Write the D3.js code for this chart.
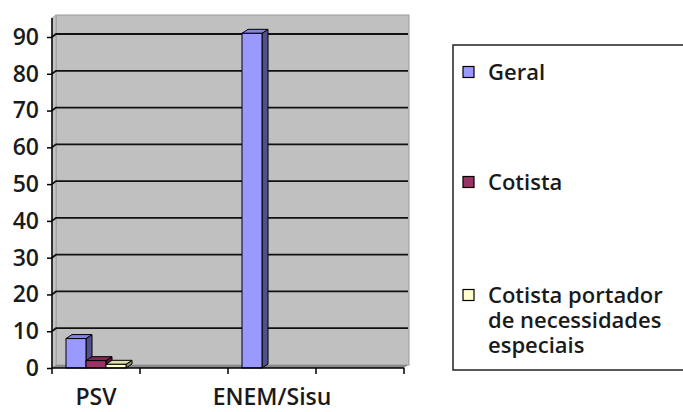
<!DOCTYPE html>
<html lang="pt">
<head>
  <meta charset="UTF-8">
  <title>PSV x ENEM/Sisu</title>
  <script src="https://d3js.org/d3.v7.min.js"></script>
  <style>
    body { margin: 0; background: #fff; }
    text { font-family: "Open Sans", sans-serif; font-weight: 600; fill: #1a1a1a; }
  </style>
</head>
<body>
  <svg width="683" height="412"></svg>

  <script>
    // Categories (Excel left two empty columns between the labelled ones)
    const categories = ["PSV", "", "ENEM/Sisu", ""];
    const series = ["Geral", "Cotista", "Cotista portador de necessidades especiais"];
    const legendLines = [["Geral"], ["Cotista"], ["Cotista portador", "de necessidades", "especiais"]];

    // Values per series, one per category
    const geral = [8, 0, 91, 0];
    const cotista = [2, 0, 0, 0];
    const especiais = [1, 0, 0, 0];

    const yTicks = [0, 10, 20, 30, 40, 50, 60, 70, 80, 90];

    const colors = {
      front: ["#9999ff", "#993366", "#ffffcc"],
      top: ["#8484e0", "#7d2953", "#e0e0b0"],
      side: ["#50508c", "#561c3a", "#8f8f72"]
    };

    const fontSize = 23;
    const svg = d3.select("svg");

    // Plot geometry
    const x0 = 52, x1 = 404, yBottom = 368, yTop90 = 37;
    const wallDx = 4, wallDy = -3;   // depth of back wall
    const barDx = 6, barDy = -4;     // depth of the 3D columns

    const x = d3.scaleBand()
      .domain(d3.range(categories.length))
      .range([x0, x1])
      .padding(0);

    const xs = d3.scaleBand()
      .domain(series)
      .range([0, x.bandwidth()])
      .paddingInner(0)
      .paddingOuter(0.7);

    const y = d3.scaleLinear()
      .domain([0, 90])
      .range([yBottom, yTop90]);

    // Back wall, side wall and floor
    const wallTop = 15;
    svg.append("rect")
      .attr("x", x0 + wallDx)
      .attr("y", wallTop)
      .attr("width", x1 + wallDx + 1 - (x0 + wallDx))
      .attr("height", y(0) + wallDy - wallTop)
      .attr("fill", "#c0c0c0")
      .attr("stroke", "#9a9a9a")
      .attr("stroke-width", 1);

    svg.append("polygon")
      .attr("points", [[x0, y(0)], [x0 + wallDx, y(0) + wallDy], [x0 + wallDx, wallTop], [x0, wallTop + 3]].join(" "))
      .attr("fill", "#c4c4c4")
      .attr("stroke", "#9a9a9a")
      .attr("stroke-width", 0.8);

    svg.append("polygon")
      .attr("points", [[x0, y(0)], [x1, y(0)], [x1 + wallDx, y(0) + wallDy], [x0 + wallDx, y(0) + wallDy]].join(" "))
      .attr("fill", "#8a8a8a");

    // Gridlines on the back wall
    svg.append("g")
      .selectAll("path")
      .data(yTicks.filter(t => t > 0))
      .join("path")
      .attr("d", t => `M${x0},${y(t)}L${x0 + wallDx},${y(t) + wallDy}H${x1 + wallDx}`)
      .attr("fill", "none")
      .attr("stroke", "#111")
      .attr("stroke-width", 1.8);

    // Bars
    const rows = categories.map((c, i) => [geral[i], cotista[i], especiais[i]]);
    const bars = [];
    rows.forEach((vals, i) => {
      vals.forEach((v, s) => {
        if (v > 0) bars.push({ cat: i, s, v });
      });
    });

    const barG = svg.append("g")
      .selectAll("g")
      .data(bars)
      .join("g");

    barG.each(function (d) {
      const g = d3.select(this);
      const bx = x(d.cat) + xs(series[d.s]);
      const w = xs.bandwidth();
      const yt = y(d.v), yb = y(0);
      g.append("polygon")
        .attr("points", [[bx + w, yt], [bx + w + barDx, yt + barDy], [bx + w + barDx, yb + barDy], [bx + w, yb]].join(" "))
        .attr("fill", colors.side[d.s])
        .attr("stroke", "#000").attr("stroke-width", 1).attr("stroke-linejoin", "round");
      g.append("polygon")
        .attr("points", [[bx, yt], [bx + barDx, yt + barDy], [bx + w + barDx, yt + barDy], [bx + w, yt]].join(" "))
        .attr("fill", colors.top[d.s])
        .attr("stroke", "#000").attr("stroke-width", 1).attr("stroke-linejoin", "round");
      g.append("rect")
        .attr("x", bx).attr("y", yt)
        .attr("width", w).attr("height", yb - yt)
        .attr("fill", colors.front[d.s])
        .attr("stroke", "#000").attr("stroke-width", 1);
    });

    // Y axis
    svg.append("g")
      .attr("transform", `translate(${x0},0)`)
      .call(d3.axisLeft(y).tickValues(yTicks).tickSize(5).tickPadding(8))
      .call(g => g.select(".domain").attr("d", `M0,18V${y(0)}`).attr("stroke", "#000").attr("stroke-width", 1.5))
      .call(g => g.selectAll(".tick line").attr("stroke", "#000").attr("stroke-width", 1.5))
      .call(g => g.selectAll(".tick text").attr("font-size", fontSize).style("font-family", null).attr("fill", "#1a1a1a"));

    // X axis: labels at band centres, ticks at band boundaries
    svg.append("g")
      .attr("transform", `translate(0,${y(0)})`)
      .call(d3.axisBottom(x).tickSize(0).tickPadding(21).tickFormat(i => categories[i]))
      .call(g => g.select(".domain").attr("d", `M${x0},0H${x1}`).attr("stroke", "#000").attr("stroke-width", 1.5))
      .call(g => g.selectAll(".tick text").attr("font-size", fontSize).style("font-family", null).attr("fill", "#1a1a1a"));

    svg.append("g")
      .selectAll("line")
      .data(d3.range(categories.length + 1))
      .join("line")
      .attr("x1", i => x0 + i * x.step())
      .attr("x2", i => x0 + i * x.step())
      .attr("y1", y(0))
      .attr("y2", y(0) + 6)
      .attr("stroke", "#000")
      .attr("stroke-width", 1.5);

    // Legend
    svg.append("rect")
      .attr("x", 453).attr("y", 45)
      .attr("width", 260).attr("height", 325)
      .attr("fill", "#fff")
      .attr("stroke", "#222")
      .attr("stroke-width", 1.5);

    const legendY = [72, 182, 295];
    const leg = svg.append("g")
      .selectAll("g")
      .data(series)
      .join("g")
      .attr("transform", (d, i) => `translate(463,${legendY[i]})`);

    leg.append("rect")
      .attr("x", 0).attr("y", -5.5)
      .attr("width", 11).attr("height", 11)
      .attr("fill", (d, i) => colors.front[i])
      .attr("stroke", "#000")
      .attr("stroke-width", 1.2);

    leg.append("text")
      .attr("x", 25)
      .attr("font-size", 22)
      .selectAll("tspan")
      .data((d, i) => legendLines[i])
      .join("tspan")
      .attr("x", 25)
      .attr("y", (d, j) => j * 25)
      .attr("dy", "0.35em")
      .text(d => d);
  </script>
</body>
</html>
